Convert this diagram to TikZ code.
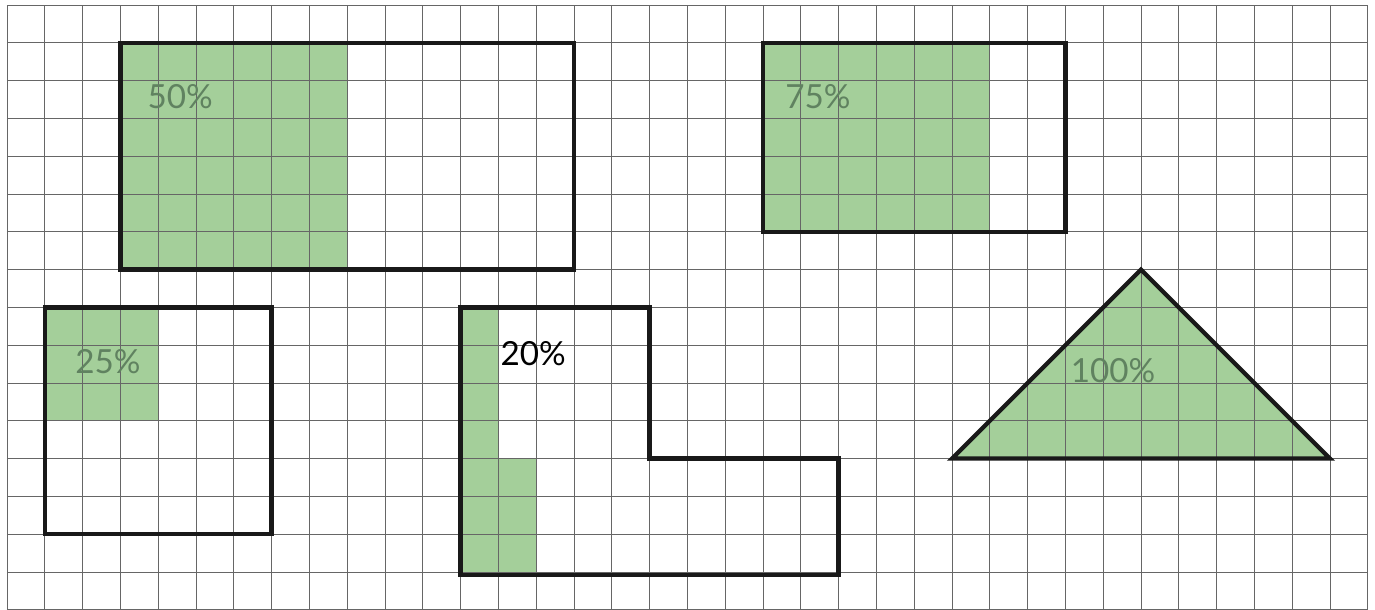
\documentclass[tikz,border=0pt]{standalone}
\usepackage{fontspec}
\setmainfont{Lato}
\definecolor{shadegreen}{RGB}{164,207,154}
\definecolor{labelgreen}{RGB}{96,130,96}
\tikzset{
  gridline/.style={black!60,line width=0.6pt},
  outline/.style={line width=3.2pt,black!90,line join=miter},
  shaded/.style={fill=shadegreen},
  pct/.style={font=\fontsize{25}{25}\selectfont,text=labelgreen,inner sep=0pt}
}

\begin{document}
\begin{tikzpicture}

\useasboundingbox (-0.185,0) rectangle (36.19,16.132);

% Shaded parts of each figure
\fill[shaded] (3,15) rectangle (9,9);
\fill[shaded] (20,15) rectangle (26,10);
\fill[shaded] (1,8) rectangle (4,5);
\fill[shaded] (12,8) -- (13,8) -- (13,4) -- (14,4) -- (14,0.92) -- (12,0.92) -- cycle;
\fill[shaded] (25,4) -- (35,4) -- (30,9) -- cycle;

% Squared paper
\draw[gridline] (0,0) grid (36,16);

% Figure outlines
\draw[outline] (3,15) rectangle (15,9);
\draw[outline] (20,15) rectangle (28,10);
\draw[outline] (1,8) rectangle (7,2);
\draw[outline] (12,8) -- (17,8) -- (17,4) -- (22,4) -- (22,0.92) -- (12,0.92) -- cycle;
\draw[outline] (25,4) -- (35,4) -- (30,9) -- cycle;

% Percent labels
\node[pct] (half) at (4.58,13.57) {50\%};
\node[pct] (threeq) at (21.45,13.57) {75\%};
\node[pct] (quarter) at (2.67,6.56) {25\%};
\node[pct,text=black] (fifth) at (13.92,6.77) {20\%};
\node[pct] (whole) at (29.26,6.34) {100\%};

\end{tikzpicture}
\end{document}
